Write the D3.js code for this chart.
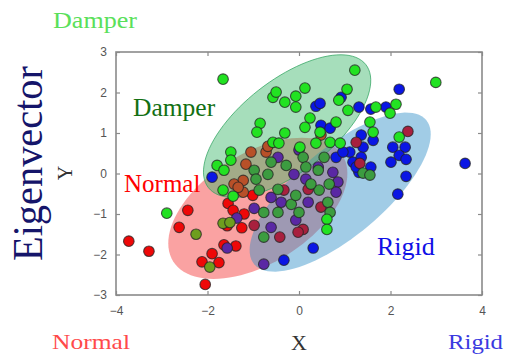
<!DOCTYPE html>
<html>
<head>
<meta charset="utf-8">
<script src="https://cdn.jsdelivr.net/npm/d3@7"></script>
<style>
  html, body { margin: 0; padding: 0; background: #fff; }
  svg { display: block; }
</style>
</head>
<body>
<svg id="chart" width="506" height="355"></svg>
<script>
// Tick values on both axes
const xTicks = [-4, -2, 0, 2, 4];
const yTicks = [-3, -2, -1, 0, 1, 2, 3];

// Samples coloured by class membership (pure classes and mixtures)
const damperPts = [
  [-1.66, 2.33], [1.22, 2.55], [2.99, 2.25], [-0.57, 1.88], [-0.50, 2.01], [-0.31, 1.76],
  [-0.07, 1.91], [0.13, 2.11], [-0.07, 1.64], [1.05, 2.08], [0.87, 1.81], [1.07, 1.56],
  [1.68, 1.64], [2.12, 1.71], [1.99, 1.49], [-0.85, 1.24], [-0.92, 1.02], [-0.31, 1.00],
  [0.24, 1.37], [0.13, 1.14], [0.81, 1.27], [1.55, 1.27], [1.62, 1.02], [2.19, 0.90],
  [-2.89, -0.98], [-1.49, 0.53], [-1.49, 0.33], [-1.79, 0.20], [-1.64, 0.08],
  [-0.57, 0.77], [-0.44, 0.75], [0.46, 1.02], [0.37, 0.75], [0.68, 0.77], [0.90, 0.75],
  [0.02, 0.65], [-1.66, -0.41], [-1.44, -0.56], [0.61, -1.13], [0.61, -1.38]
];
const normalPts = [
  [-2.43, -0.91], [-2.62, -1.33], [-3.72, -1.67], [-3.28, -1.92], [-1.55, -0.74],
  [-1.44, -0.91], [-1.57, -1.29], [-1.25, -1.34], [-1.64, -1.76], [-1.38, -1.79],
  [-1.90, -1.98], [-2.12, -2.18], [-1.75, -2.20], [-2.05, -2.74], [-1.20, -1.00],
  [-1.01, -0.54]
];
const rigidPts = [
  [2.19, 2.08], [0.37, 1.66], [0.46, 1.73], [0.92, 1.88], [1.31, 1.64], [1.90, 1.64],
  [1.57, 1.59], [0.48, 1.19], [0.68, 1.12], [1.36, 0.95], [1.40, 0.65], [1.11, 0.53],
  [2.05, 0.65], [2.32, 0.65], [1.62, 0.82], [2.19, 0.45], [2.01, 0.28], [2.34, 0.35],
  [1.57, 0.16], [2.34, -0.07], [2.16, -0.51], [3.63, 0.25], [0.31, -1.84], [-0.33, -2.14],
  [-1.90, -0.09], [1.18, 0.28], [1.31, 0.03], [1.36, 0.40], [1.25, 0.16], [0.81, 0.40],
  [0.96, 0.53]
];
// Mixed memberships
const damperNormalPts = [
  [-2.25, -1.50], [-1.95, -2.31], [-1.66, -1.23], [-1.51, -1.21]
];
const mixedGreenPts = [
  [-0.98, 0.08], [-0.94, -0.14], [-0.87, -0.41], [-0.61, 0.28], [-0.68, -0.02],
  [-0.28, 0.20], [-0.46, -0.39], [0.09, 0.40], [0.55, 0.40], [0.15, 0.16], [0.42, 0.08],
  [0.66, -0.26], [0.44, -0.41], [0.26, -0.26], [-0.17, -0.76], [0.00, -0.96],
  [-0.77, -0.96], [-0.46, -0.96], [0.63, -0.71], [-0.07, -0.54], [1.40, 0.01],
  [1.55, -0.04], [-0.77, -1.57], [0.68, -0.96]
];
const normalDamperPts = [
  [-1.05, 0.53], [-0.72, 0.53], [-0.68, 0.67], [-1.16, 0.23], [-1.22, -0.17],
  [-1.22, -0.46], [-1.42, -0.26], [-1.33, -0.34], [0.48, 0.95]
];
const normalRigidPts = [
  [2.38, 1.04], [1.25, 0.77], [1.33, 0.25], [0.20, -0.39], [0.48, -0.83], [-0.33, -0.41],
  [0.09, -1.38], [-0.02, -1.45], [-0.42, -1.57], [-0.98, -1.28]
];
const rigidNormalPts = [
  [-1.36, -1.10], [-1.57, -1.84], [-0.61, -1.33], [-0.07, -1.15], [0.74, 0.03],
  [0.42, 0.16], [-0.46, 0.40], [0.00, 0.58], [-0.11, -0.02], [0.15, -0.14], [0.85, -0.21],
  [0.20, -0.71], [0.81, -0.46], [-0.39, -0.71], [-0.98, -0.86], [-0.61, -0.59],
  [-0.77, -2.24]
];

// Class regions: centre and two semi-axis vectors, all in data units
const regionNames = ["Normal", "Rigid", "Damper"];
const regionCenters = [[-0.90, -0.86], [0.90, -0.46], [-0.26, 1.17]];
const regionMajor = [[1.85, 1.31], [1.88, 1.78], [1.72, 1.52]];
const regionMinor = [[0.64, -1.15], [0.62, -0.83], [0.62, -0.89]];

const svg = d3.select("#chart");

const x = d3.scaleLinear().domain([-4, 4]).range([116, 482]);
const y = d3.scaleLinear().domain([-3, 3]).range([295, 52]);

// Region ellipses
const regionStyle = {
  Normal: { fill: "rgba(244,48,48,0.45)", stroke: "none" },
  Rigid:  { fill: "rgba(46,142,200,0.45)", stroke: "none" },
  Damper: { fill: "rgba(58,182,104,0.45)", stroke: "rgba(40,160,90,0.7)" }
};
const steps = d3.range(0, 96);
const ellipseLine = d3.line().curve(d3.curveLinearClosed);
regionNames.forEach((name, i) => {
  const c = regionCenters[i], u = regionMajor[i], v = regionMinor[i];
  const pts = steps.map(k => {
    const t = k / steps.length * 2 * Math.PI;
    return [
      x(c[0] + u[0] * Math.cos(t) + v[0] * Math.sin(t)),
      y(c[1] + u[1] * Math.cos(t) + v[1] * Math.sin(t))
    ];
  });
  svg.append("path")
    .attr("d", ellipseLine(pts))
    .attr("fill", regionStyle[name].fill)
    .attr("stroke", regionStyle[name].stroke)
    .attr("stroke-width", 1);
});

// Points
const groups = [
  { data: normalPts, fill: "#ee0808" },
  { data: rigidPts, fill: "#0a16e4" },
  { data: normalRigidPts, fill: "#a8203e" },
  { data: rigidNormalPts, fill: "#5a28a4" },
  { data: normalDamperPts, fill: "#b85028" },
  { data: damperNormalPts, fill: "#6e9e1e" },
  { data: mixedGreenPts, fill: "#3c9c40" },
  { data: damperPts, fill: "#22e222" }
];
groups.forEach(g => {
  svg.append("g").selectAll("circle")
    .data(g.data)
    .join("circle")
    .attr("cx", d => x(d[0]))
    .attr("cy", d => y(d[1]))
    .attr("r", 5.3)
    .attr("fill", g.fill)
    .attr("stroke", "rgba(35,35,35,0.75)")
    .attr("stroke-width", 1.1);
});

// Frame and mirrored ticks
const axisColor = "#8a8a8a";
const intFmt = d3.format("d");
function styleAxis(sel) {
  sel.select(".domain").remove();
  sel.selectAll(".tick line").attr("stroke", axisColor).attr("stroke-width", 1.2);
  sel.selectAll(".tick text")
    .attr("fill", "#555")
    .style("font-family", "'Liberation Sans', Arial, sans-serif")
    .style("font-size", "12px");
}
svg.append("g").attr("transform", `translate(0,${y(-3)})`)
  .call(d3.axisBottom(x).tickValues(xTicks).tickFormat(intFmt).tickSizeInner(-4).tickSizeOuter(0).tickPadding(11))
  .call(styleAxis);
svg.append("g").attr("transform", `translate(0,${y(3)})`)
  .call(d3.axisTop(x).tickValues(xTicks).tickSizeInner(-4).tickSizeOuter(0).tickFormat(""))
  .call(styleAxis);
svg.append("g").attr("transform", `translate(${x(-4)},0)`)
  .call(d3.axisLeft(y).tickValues(yTicks).tickFormat(intFmt).tickSizeInner(-4).tickSizeOuter(0).tickPadding(9))
  .call(styleAxis);
svg.append("g").attr("transform", `translate(${x(4)},0)`)
  .call(d3.axisRight(y).tickValues(yTicks).tickSizeInner(-4).tickSizeOuter(0).tickFormat(""))
  .call(styleAxis);
svg.append("rect")
  .attr("x", x(-4)).attr("y", y(3))
  .attr("width", x(4) - x(-4)).attr("height", y(-3) - y(3))
  .attr("fill", "none").attr("stroke", axisColor).attr("stroke-width", 1.6);

const serif = "'Liberation Serif', 'Times New Roman', serif";

// Axis titles
svg.append("text").attr("x", x(0)).attr("y", 350)
  .attr("text-anchor", "middle").attr("fill", "#333")
  .style("font-family", serif).style("font-size", "22px").text("X");
svg.append("text").attr("transform", "translate(72,173) rotate(-90)")
  .attr("text-anchor", "middle").attr("fill", "#333")
  .style("font-family", serif).style("font-size", "20px").text("Y");

// Class labels inside the plot
svg.append("text").attr("x", 133).attr("y", 116).attr("fill", "#137013")
  .style("font-family", serif).style("font-size", "25.5px").text("Damper");
svg.append("text").attr("x", 124).attr("y", 192).attr("fill", "#ff0000")
  .style("font-family", serif).style("font-size", "25px").text("Normal");
svg.append("text").attr("x", 377).attr("y", 255).attr("fill", "#1010e6")
  .style("font-family", serif).style("font-size", "26px").text("Rigid");

// Corner labels and the eigenvector title
svg.append("text").attr("x", 53).attr("y", 28).attr("fill", "#5ae05a")
  .attr("textLength", 84).attr("lengthAdjust", "spacingAndGlyphs")
  .style("font-family", serif).style("font-size", "22.5px").text("Damper");
svg.append("text").attr("x", 52).attr("y", 349).attr("fill", "#ff4a4a")
  .attr("textLength", 78).attr("lengthAdjust", "spacingAndGlyphs")
  .style("font-family", serif).style("font-size", "22px").text("Normal");
svg.append("text").attr("x", 448).attr("y", 349).attr("fill", "#3a3ae0")
  .attr("textLength", 55).attr("lengthAdjust", "spacingAndGlyphs")
  .style("font-family", serif).style("font-size", "22px").text("Rigid");
svg.append("text").attr("transform", "translate(42,261) rotate(-90)")
  .attr("fill", "#15156a")
  .attr("textLength", 195).attr("lengthAdjust", "spacingAndGlyphs")
  .style("font-family", serif).style("font-size", "43px").text("Eigenvector");
</script>
</body>
</html>
